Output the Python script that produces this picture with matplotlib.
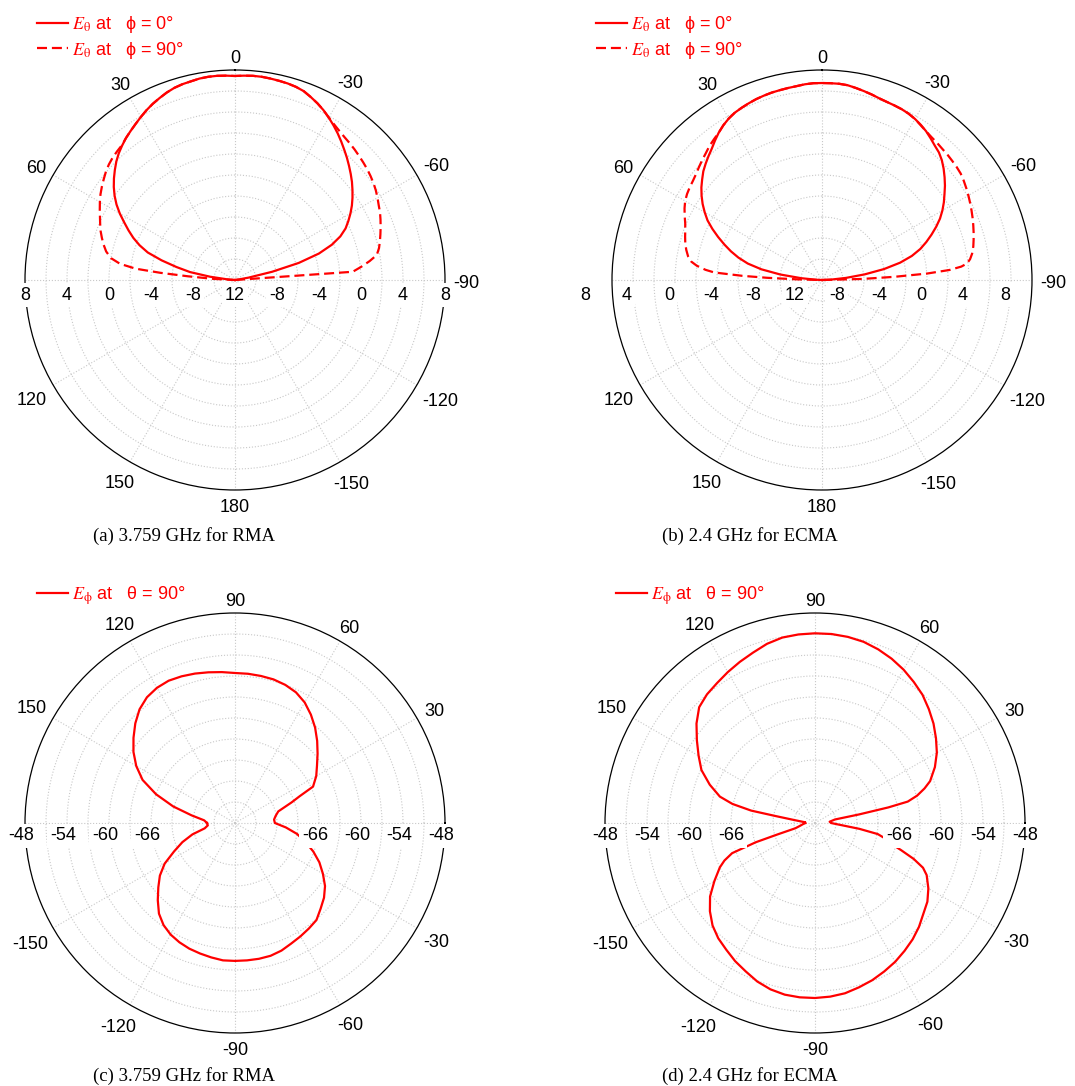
import numpy as np
import matplotlib
matplotlib.use('Agg')
import matplotlib.pyplot as plt
from matplotlib.transforms import offset_copy
from matplotlib.lines import Line2D

plt.rcParams['font.family'] = ['Liberation Sans', 'DejaVu Sans']
plt.rcParams['mathtext.fontset'] = 'stix'

# ---------------- data (dB) ----------------
# (a) 3.759 GHz RMA, E_theta; theta: 0 at top, positive to the left
theta_a_phi0 = np.arange(-90, 90.1, 2.5)
E_a_phi0 = [-12, -12, -12, -11.7, -10.67, -8.38, -5.71, -3.62, -2.19, -1.14, -0.38, 0.17, 0.7, 1.2, 1.66, 2.1,
            2.54, 2.95, 3.36, 3.78, 4.19, 4.62, 5.05, 5.46, 5.86, 6.24, 6.57, 6.86, 7.14, 7.29, 7.38, 7.43, 7.48,
            7.52, 7.52, 7.48, 7.43, 7.48, 7.52, 7.52, 7.48, 7.38, 7.31, 7.19, 7.0, 6.76, 6.52, 6.24, 5.93, 5.62,
            5.33, 5.05, 4.72, 4.38, 3.98, 3.52, 3.05, 2.55, 2.0, 1.38, 0.67, -0.1, -0.81, -1.52, -2.33, -3.29,
            -4.76, -6.29, -7.65, -9.6, -11.24, -11.8, -12]
theta_a_phi90 = [-90, -86, -84, -82, -80, -77.5, -75, -72.5, -70, -67.5, -65, -62.5, -60, -57.5, -55, -52.5, -50,
                 -47.5, -45, -42.5, -40, -37.5, -35, -32.5, -30, -27.5, -25, -22.5, -20, -17.5, -15, -12.5, -10,
                 -7.5, -5, -2.5, 0, 2.5, 5, 7.5, 10, 12.5, 15, 17.5, 20, 22.5, 25, 27.5, 30, 32.5, 35, 37.5, 40,
                 42.5, 45, 47.5, 50, 52.5, 55, 57.5, 60, 62.5, 65, 67.5, 70, 72.5, 75, 77.5, 80, 82, 83.5, 84.5,
                 85.5, 87, 90]
E_a_phi90 = [-12, -0.76, 0.1, 0.95, 1.71, 2.05, 2.29, 2.52, 2.76, 3.0, 3.24, 3.43, 3.67, 3.9, 4.1, 4.27, 4.43,
             4.57, 4.71, 4.86, 5.0, 5.14, 5.33, 5.57, 5.86, 6.24, 6.57, 6.86, 7.14, 7.29, 7.38, 7.43, 7.48, 7.52,
             7.52, 7.48, 7.43, 7.48, 7.52, 7.52, 7.48, 7.38, 7.31, 7.19, 7.0, 6.76, 6.52, 6.24, 5.93, 5.62, 5.33,
             5.05, 4.76, 4.62, 4.48, 4.29, 4.05, 3.76, 3.48, 3.19, 2.86, 2.52, 2.19, 1.9, 1.62, 1.29, 0.95, 0.57,
             0.0, -0.95, -2.48, -4.86, -7.52, -9.9, -12]

# (b) 2.4 GHz ECMA
theta_b_phi0 = np.arange(-90, 90.1, 2.5)
E_b_phi0 = [-12, -11.14, -9.71, -7.9, -6.0, -4.38, -3.14, -2.19, -1.43, -0.71, 0.0, 0.67, 1.24, 1.76, 2.24, 2.76,
            3.24, 3.71, 4.14, 4.48, 4.71, 5.0, 5.29, 5.52, 5.71, 5.86, 5.95, 6.0, 6.05, 6.14, 6.29, 6.43, 6.57,
            6.71, 6.76, 6.76, 6.76, 6.76, 6.71, 6.62, 6.57, 6.52, 6.48, 6.41, 6.33, 6.22, 6.1, 5.97, 5.76, 5.48,
            5.14, 4.74, 4.33, 4.0, 3.67, 3.33, 2.9, 2.48, 2.0, 1.48, 0.9, 0.29, -0.48, -1.29, -2.1, -2.9, -3.76,
            -4.76, -6.14, -8.0, -10.0, -11.43, -12]
theta_b_phi90 = [-90, -88.5, -87.5, -86.5, -85.5, -84.5, -83.5, -82, -80, -77.5, -75, -72.5, -70, -67.5, -65,
                 -62.5, -60, -57.5, -55, -52.5, -50, -47.5, -45, -42.5, -40, -37.5, -35, -32.5, -30, -27.5, -25,
                 -22.5, -20, -17.5, -15, -12.5, -10, -7.5, -5, -2.5, 0, 2.5, 5, 7.5, 10, 12.5, 15, 17.5, 20, 22.5,
                 25, 27.5, 30, 32.5, 35, 37.5, 40, 42.5, 45, 47.5, 50, 52.5, 55, 57.5, 60, 62.5, 65, 67.5, 70, 72.5,
                 75, 77.5, 80, 82, 83.5, 85, 86, 87, 87.7, 88.5, 90]
E_b_phi90 = [-12, -8.19, -5.14, -2.0, 0.19, 1.33, 1.9, 2.24, 2.52, 2.76, 2.95, 3.14, 3.33, 3.52, 3.71, 3.9, 4.1,
             4.29, 4.48, 4.65, 4.74, 4.81, 4.89, 4.95, 5.05, 5.14, 5.29, 5.48, 5.71, 5.86, 5.95, 6.0, 6.05, 6.14,
             6.29, 6.43, 6.57, 6.71, 6.76, 6.76, 6.76, 6.76, 6.71, 6.62, 6.57, 6.52, 6.48, 6.41, 6.33, 6.22, 6.1,
             5.97, 5.76, 5.48, 5.14, 4.9, 4.67, 4.38, 4.14, 3.9, 3.67, 3.5, 3.38, 3.24, 3.05, 2.76, 2.43, 2.1,
             1.86, 1.67, 1.48, 1.24, 0.95, 0.57, 0.0, -0.86, -1.71, -4.38, -6.76, -9.62, -12]

# (c) 3.759 GHz RMA, E_phi at theta = 90 deg (phi: 0 at right, counter-clockwise)
phi_c = [-180, -175, -170, -165, -160, -155, -150, -145, -140, -135, -130, -125, -120, -115, -110, -105, -100,
         -95, -90, -85, -80, -75, -70, -65, -60, -55, -50, -45, -40, -35, -30, -25, -20, -15, -10, -5, 0, 5, 10,
         15, 20, 22.5, 25, 30, 35, 40, 45, 50, 55, 60, 65, 70, 75, 80, 85, 90, 95, 100, 105, 110, 115, 120, 125,
         130, 135, 140, 145, 150, 155, 160, 165, 170, 175, 180]
E_c = [-74.0, -74.1, -73.6, -71.7, -70.0, -68.4, -66.4, -64.9, -63.7, -62.4, -61.1, -60.2, -59.6, -59.2, -58.9,
       -58.7, -58.5, -58.3, -58.3, -58.3, -58.3, -58.36, -58.6, -59.0, -59.3, -59.6, -59.9, -60.7, -61.4, -62.3,
       -63.5, -64.7, -66.1, -67.6, -69.0, -70.7, -72.3, -72.4, -72.1, -71.6, -69.4, -68.0, -65.7, -64.6, -63.7,
       -62.6, -61.4, -60.2, -59.1, -58.1, -57.4, -57.0, -56.76, -56.67, -56.6, -56.57, -56.36, -56.14, -55.9,
       -55.7, -55.57, -55.7, -56.07, -56.79, -57.86, -59.07, -60.29, -61.71, -63.43, -66.0, -68.86, -71.7,
       -73.57, -74.0]

# (d) 2.4 GHz ECMA
phi_d = [-180, -175, -170, -165, -163, -162, -160, -157.5, -155, -150, -145, -140, -135, -130, -125, -120, -115,
         -110, -105, -100, -95, -90, -85, -80, -75, -70, -65, -60, -55, -50, -45, -40, -35, -30, -25, -22.5, -20,
         -17.5, -15, -12.5, -10, -7.5, -5, -2.5, 0, 5, 10, 11, 12, 13, 15, 17.5, 20, 25, 30, 35, 40, 45, 50, 55,
         60, 65, 70, 75, 80, 85, 90, 95, 100, 105, 110, 115, 120, 125, 130, 135, 140, 145, 150, 155, 160, 164.5,
         167, 169, 170, 172, 176, 180]
E_d = [-76.6, -76.3, -75.9, -75.1, -72.3, -69.1, -65.4, -64.0, -63.0, -61.4, -59.7, -58.4, -57.3, -56.5, -55.9,
       -55.2, -54.6, -53.9, -53.4, -53.1, -53.0, -53.0, -53.1, -53.3, -53.7, -54.1, -54.6, -55.1, -55.7, -56.3,
       -57.0, -57.8, -58.4, -59.3, -60.4, -61.3, -63.0, -65.1, -66.9, -67.7, -68.9, -71.6, -74.0, -75.1, -75.7,
       -75.9, -75.1, -71.6, -67.3, -64.4, -62.9, -61.6, -60.5, -59.1, -57.9, -56.9, -55.9, -55.0, -54.1, -53.4,
       -52.7, -52.1, -51.6, -51.2, -51.0, -50.9, -50.9, -50.96, -51.1, -51.5, -52.1, -52.6, -53.1, -53.6, -54.0,
       -54.6, -55.9, -57.4, -58.8, -60.1, -62.0, -63.9, -65.9, -68.7, -72.3, -75.1, -76.6, -76.6]

# tick labels
ang_ticks_top = [0, 30, 60, -30, -60, -90, 120, 150, 180, -120, -150]
ang_labels_top = ['0', '30', '60', '-30', '-60', '-90', '120', '150', '180', '-120', '-150']
ang_ticks_bot = [90, 60, 30, 120, 150, -30, -60, -90, -120, -150]
ang_labels_bot = ['90', '60', '30', '120', '150', '-30', '-60', '-90', '-120', '-150']
ring_vals_top = [8, 4, 0, -4, -8]
ring_labels_top = ['8', '4', '0', '-4', '-8']
center_label_top = '12'
ring_vals_bot = [-48, -54, -60, -66]
ring_labels_bot = ['-48', '-54', '-60', '-66']

legend_top = [r'$E_{\mathrm{\theta}}$ at   ϕ = 0°', r'$E_{\mathrm{\theta}}$ at   ϕ = 90°']
legend_bot = [r'$E_{\mathrm{\phi}}$ at   θ = 90°']
captions = ['(a) 3.759 GHz for RMA', '(b) 2.4 GHz for ECMA', '(c) 3.759 GHz for RMA', '(d) 2.4 GHz for ECMA']

# ---------------- figure ----------------
W, H = 1075, 1086
fig = plt.figure(figsize=(W / 100, H / 100), dpi=100)
R = 210
RED = '#ff0000'
LW = 1.6
DASH = (0, (4.5, 2.2))
FS = 13


def make_ax(cx, cy, r=R):
    return fig.add_axes([(cx - r) / W, 1 - (cy + r) / H, 2 * r / W, 2 * r / H], projection='polar')


def setup(ax, rmin, rmax, rstep, zero):
    ax.set_theta_zero_location(zero)
    ax.set_theta_direction(1)
    ax.set_rlim(rmin, rmax)
    ax.set_yticks(np.arange(rmin + rstep, rmax - rstep / 2, rstep))
    ax.set_yticklabels([])
    ax.set_xticks(np.deg2rad(np.arange(0, 360, 30)))
    ax.set_xticklabels([])
    ax.tick_params(length=0)
    ax.grid(True, color='#c8c8c8', linestyle=':', linewidth=0.8)
    ax.spines['polar'].set_color('black')
    ax.spines['polar'].set_linewidth(0.9)


def angle_labels(ax, thetas, labels, zero_deg, pad=8, shift=-3):
    rmax = ax.get_rmax()
    for th, lab in zip(thetas, labels):
        sa = np.deg2rad(zero_deg + th)
        c, s = np.cos(sa), np.sin(sa)
        w = sum(6 if ch == '-' else 10 for ch in lab)
        h = 13
        d = pad + abs(c) * w / 2 + abs(s) * h / 2
        tr = offset_copy(ax.transData, fig=fig, x=d * c, y=d * s + shift, units='dots')
        ax.text(np.deg2rad(th), rmax, lab, transform=tr, ha='center', va='center',
                fontsize=FS, clip_on=False, zorder=6)


def ring_labels(ax, left_th, right_th, vals, labels, dy, dx=0.0, center=None):
    tr = offset_copy(ax.transData, fig=fig, x=dx, y=dy, units='dots')
    kw = dict(transform=tr, ha='center', va='center', fontsize=FS, clip_on=False, zorder=6,
              bbox=dict(facecolor='white', edgecolor='none', pad=2.5))
    for v, lab in zip(vals, labels):
        ax.text(np.deg2rad(left_th), v, lab, **kw)
        ax.text(np.deg2rad(right_th), v, lab, **kw)
    if center is not None:
        ax.text(0, ax.get_rmin(), center, **kw)


def legend(ax, handles, labels, x, y):
    leg = ax.legend(handles, labels, loc='upper left', bbox_to_anchor=(x / W, 1 - y / H),
                    bbox_transform=fig.transFigure, frameon=False, fontsize=FS,
                    handlelength=1.7, handletextpad=0.25, borderpad=0, borderaxespad=0,
                    labelspacing=0.25)
    for t in leg.get_texts():
        t.set_color(RED)
    return leg


h_solid = Line2D([], [], color=RED, lw=LW, linestyle='-')
h_dash = Line2D([], [], color=RED, lw=LW, linestyle=DASH)

# (a)
ax = make_ax(235, 280)
setup(ax, -12, 8, 2, 'N')
ax.plot(np.deg2rad(theta_a_phi90), E_a_phi90, color=RED, lw=LW, linestyle=DASH)
ax.plot(np.deg2rad(theta_a_phi0), E_a_phi0, color=RED, lw=LW)
angle_labels(ax, ang_ticks_top, ang_labels_top, 90)
ring_labels(ax, 90, -90, ring_vals_top, ring_labels_top, dy=-15, center=center_label_top)
legend(ax, [h_solid, h_dash], legend_top, 37, 14)

# (b)
ax = make_ax(822, 280)
setup(ax, -12, 8, 2, 'N')
ax.plot(np.deg2rad(theta_b_phi90), E_b_phi90, color=RED, lw=LW, linestyle=DASH)
ax.plot(np.deg2rad(theta_b_phi0), E_b_phi0, color=RED, lw=LW)
angle_labels(ax, ang_ticks_top, ang_labels_top, 90)
ring_labels(ax, 90, -90, ring_vals_top, ring_labels_top, dy=-15, dx=-27, center=center_label_top)
legend(ax, [h_solid, h_dash], legend_top, 596, 14)

# (c)
ax = make_ax(235, 823)
setup(ax, -78, -48, 3, 'E')
ax.plot(np.deg2rad(phi_c), E_c, color=RED, lw=LW)
angle_labels(ax, ang_ticks_bot, ang_labels_bot, 0)
ring_labels(ax, 180, 0, ring_vals_bot, ring_labels_bot, dy=-13, dx=-4)
legend(ax, [h_solid], legend_bot, 37, 584)

# (d)
ax = make_ax(815, 823)
setup(ax, -78, -48, 3, 'E')
ax.plot(np.deg2rad(phi_d), E_d, color=RED, lw=LW)
angle_labels(ax, ang_ticks_bot, ang_labels_bot, 0)
ring_labels(ax, 180, 0, ring_vals_bot, ring_labels_bot, dy=-13)
legend(ax, [h_solid], legend_bot, 616, 584)

# captions
for (x, y), cap in zip([(184, 536), (750, 536), (184, 1076), (750, 1076)], captions):
    fig.text(x / W, 1 - y / H, cap, family=['Liberation Serif', 'DejaVu Serif'], fontsize=13.5,
             ha='center', va='center')

fig.savefig('out.png', dpi=100)
